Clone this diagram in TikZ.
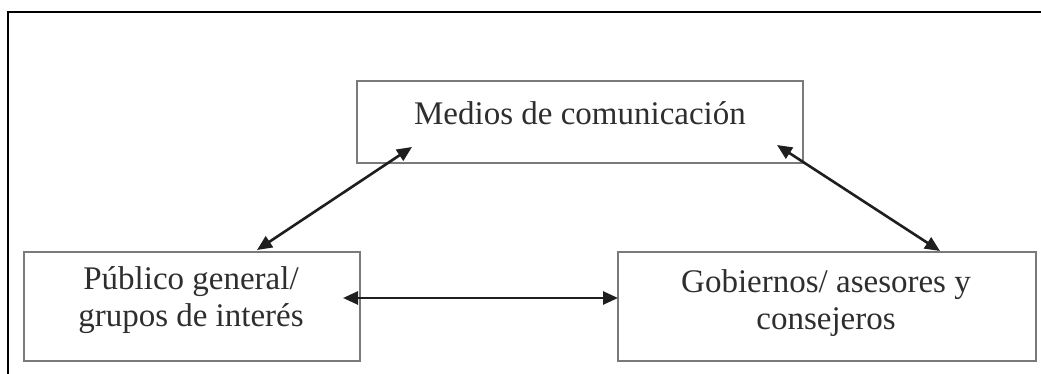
\documentclass[tikz,border=0pt]{standalone}
\usepackage{fontspec}
\setmainfont{Liberation Serif}
\usetikzlibrary{arrows.meta}
\definecolor{boxgray}{HTML}{7A7A7A}
\definecolor{txtgray}{HTML}{2E2E2E}
\definecolor{arrowcol}{HTML}{1E1E1E}
\begin{document}
\begin{tikzpicture}[x=1pt,y=-1pt,
  boxstyle/.style={draw=boxgray,line width=2.5pt,inner sep=0pt},
  txtstyle/.style={text=txtgray,font=\fontsize{33}{37}\selectfont,align=center,inner sep=0pt},
  dblarrow/.style={draw=arrowcol,line width=2.6pt,{Triangle[length=15pt,width=13pt]}-{Triangle[length=15pt,width=13pt]}}]
\useasboundingbox (0,0) rectangle (1041,374);
% frame
\coordinate (fbl) at (8,374);
\coordinate (ftl) at (8,12);
\coordinate (ftr) at (1041,12);
\draw[line width=2.2pt,black] (fbl) -- (ftl) -- (ftr);
% boxes
\node[boxstyle,minimum width=446pt,minimum height=82pt] (medios) at (580,122) {};
\node[boxstyle,minimum width=336pt,minimum height=109pt] (publico) at (192,306.5) {};
\node[boxstyle,minimum width=418pt,minimum height=109pt] (gob) at (827,306.5) {};
% texts
\node[txtstyle] (tmedios) at (580,113) {Medios de comunicación};
\node[txtstyle] (tpublico) at (191,300) {Público general/\\grupos de interés};
\node[txtstyle] (tgob) at (826,303) {Gobiernos/ asesores y\\consejeros};
% arrow ends
\coordinate (m1) at (412,147);
\coordinate (p1) at (257,250);
\coordinate (m2) at (777,145);
\coordinate (g1) at (940,251);
\coordinate (p2) at (343,298);
\coordinate (g2) at (618,298);
\draw[dblarrow] (p1) -- (m1);
\draw[dblarrow] (m2) -- (g1);
\draw[dblarrow] (p2) -- (g2);
\end{tikzpicture}
\end{document}
